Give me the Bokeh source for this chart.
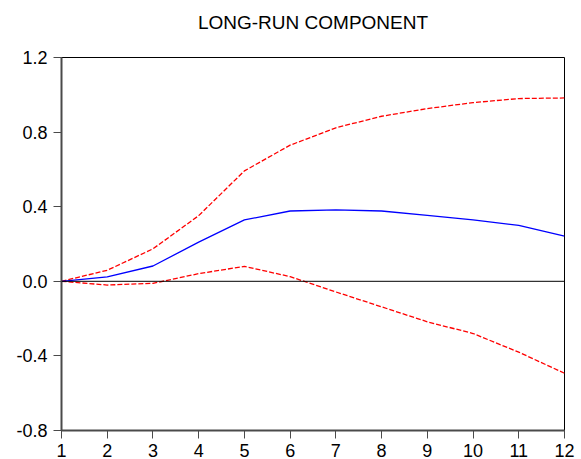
from bokeh.plotting import figure
from bokeh.models import Range1d, Span, FixedTicker, Title
from bokeh.embed import file_html
from bokeh.resources import INLINE

# Impulse response of the long-run component with its confidence band
periods = [1, 2, 3, 4, 5, 6, 7, 8, 9, 10, 11, 12]
response = [0.0, 0.024, 0.082, 0.21, 0.329, 0.377, 0.383, 0.377, 0.354, 0.329, 0.300, 0.242]
upper_band = [0.0, 0.059, 0.174, 0.352, 0.592, 0.730, 0.823, 0.885, 0.926, 0.958, 0.980, 0.983]
lower_band = [0.0, -0.02, -0.011, 0.041, 0.080, 0.025, -0.057, -0.137, -0.217, -0.280, -0.380, -0.493]

y_ticks = [-0.8, -0.4, 0.0, 0.4, 0.8, 1.2]
title_text = "LONG-RUN COMPONENT"

FONT = "Liberation Sans"

p = figure(
    width=581, height=459,
    output_backend="svg", toolbar_location=None,
    x_range=Range1d(1, 12), y_range=Range1d(-0.8, 1.2),
    min_border_left=61, min_border_right=17,
    min_border_top=0, min_border_bottom=27,
    background_fill_color="white", border_fill_color="white",
)

# a thin blank band between the frame and the title keeps the title near the top edge
p.add_layout(Title(text=" ", text_font_size="2px", standoff=7), "above")
p.add_layout(Title(
    text=title_text, align="center", vertical_align="top", standoff=23,
    text_font=FONT, text_font_size="19px", text_font_style="normal", text_color="black",
), "above")

p.outline_line_color = "black"
p.outline_line_width = 1
p.xgrid.visible = False
p.ygrid.visible = False

for ax in (p.xaxis[0], p.yaxis[0]):
    ax.axis_line_color = "#4a4a4a"
    ax.axis_line_width = 2
    ax.major_tick_line_color = "#4a4a4a"
    ax.major_tick_line_width = 1
    ax.major_tick_in = 0
    ax.minor_tick_line_color = None
    ax.major_label_text_font = FONT
    ax.major_label_text_font_size = "18px"
    ax.major_label_text_color = "black"

p.xaxis.ticker = FixedTicker(ticks=periods)
p.xaxis.major_tick_out = 8
p.xaxis.major_label_standoff = 5

p.yaxis.ticker = FixedTicker(ticks=y_ticks)
p.yaxis.major_tick_out = 8
p.yaxis.major_label_standoff = 6
p.yaxis.major_label_overrides = {t: f"{t:.1f}" for t in y_ticks}

# zero reference line
p.add_layout(Span(location=0, dimension="width", line_color="black", line_width=1))

p.line(periods, upper_band, line_color="#ff0000", line_width=1.3, line_dash="5 2")
p.line(periods, lower_band, line_color="#ff0000", line_width=1.3, line_dash="5 2")
p.line(periods, response, line_color="#0000ff", line_width=1.3)

open("out.html", "w").write(file_html(p, INLINE))
